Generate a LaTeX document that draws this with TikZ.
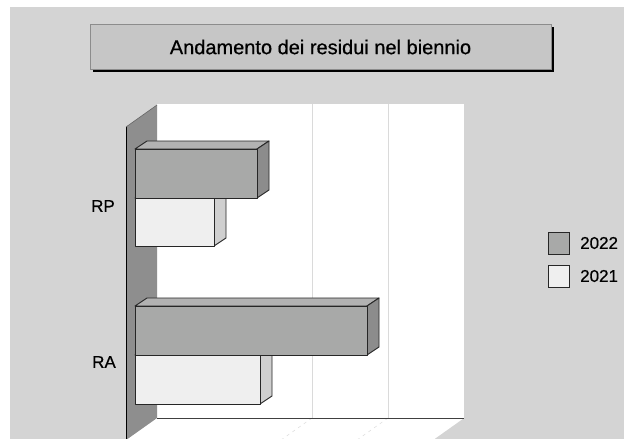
\documentclass[tikz,border=0pt]{standalone}
\usepackage{fontspec}
\setmainfont[FakeBold=0.6]{Liberation Sans}
\definecolor{bgc}{HTML}{D4D4D4}
\definecolor{titlec}{HTML}{C6C6C6}
\definecolor{wallc}{HTML}{8E8E8E}
\definecolor{gridc}{HTML}{DADADA}
\definecolor{dfront}{HTML}{A8A9A8}
\definecolor{dtop}{HTML}{B2B2B2}
\definecolor{dside}{HTML}{8C8C8C}
\definecolor{lfront}{HTML}{EFEFEF}
\definecolor{ltop}{HTML}{F6F6F6}
\definecolor{lside}{HTML}{CFCFCF}
\begin{document}
\begin{tikzpicture}[x=1pt,y=-1pt,
  edge/.style={draw=black!85,line width=0.9pt,line join=round},
  lbl/.style={font=\fontsize{17}{20}\selectfont,inner sep=0pt}]
\useasboundingbox (0,0) rectangle (624,439);
\fill[white] (0,0) rectangle (624,439);
\fill[bgc] (10,7) rectangle (624,439);
% title
\fill[black] (93,27) rectangle (554,72);
\filldraw[fill=titlec,draw=black!45,line width=0.8pt] (90,24) rectangle (551,69);
\node[font=\fontsize{20}{24}\selectfont,inner sep=0pt] (title) at (320.5,47) {Andamento dei residui nel biennio};
% back wall
\fill[white] (157,104) rectangle (464,418);
\foreach \gx in {312,388}{
  \draw[gridc,line width=0.9pt] (\gx,104) -- (\gx,418);
}
% floor
\fill[white] (157,418) -- (464,418) -- (433,440) -- (126,440) -- cycle;
\foreach \gx in {312,388}{
  \draw[black!12,line width=0.6pt,dash pattern=on 3pt off 4pt] (\gx,418) -- (\gx-31,440);
}
\draw[black!75,line width=1pt] (157,418) -- (464,418);
% left wall
\fill[wallc] (126,127) -- (157,105) -- (157,418) -- (126,440) -- cycle;
\draw[black,line width=1pt] (126,127) -- (126,440);
\draw[black!60,line width=0.6pt] (126,127) -- (157,105);
% bars: x1/y1/x2/y2/front/top/side (2021 first, then 2022 on top)
\foreach \xa/\ya/\xb/\yb/\cf/\ct/\cs in {
  135/198/214/246/lfront/ltop/lside,
  135/149/257/198/dfront/dtop/dside,
  135/355/260/404/lfront/ltop/lside,
  135/306/367/355/dfront/dtop/dside}{
  \filldraw[fill=\ct,edge] (\xa,\ya) -- (\xa+12,\ya-8) -- (\xb+12,\ya-8) -- (\xb,\ya) -- cycle;
  \filldraw[fill=\cs,edge] (\xb,\ya) -- (\xb+12,\ya-8) -- (\xb+12,\yb-8) -- (\xb,\yb) -- cycle;
  \filldraw[fill=\cf,edge] (\xa,\ya) rectangle (\xb,\yb);
}
% category labels
\node[lbl,anchor=east] (rp) at (115,206) {RP};
\node[lbl,anchor=east] (ra) at (116,362) {RA};
% legend
\filldraw[fill=dfront,draw=black!85,line width=0.9pt] (548,232) rectangle (569,254);
\filldraw[fill=lfront,draw=black!85,line width=0.9pt] (548,265) rectangle (569,287);
\node[lbl,anchor=west] (l22) at (580,243) {2022};
\node[lbl,anchor=west] (l21) at (580,276) {2021};
\end{tikzpicture}
\end{document}
